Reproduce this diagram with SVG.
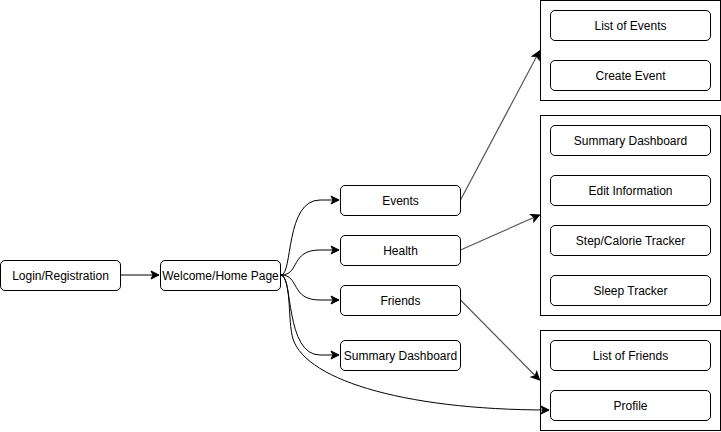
<svg xmlns="http://www.w3.org/2000/svg" width="721" height="432" viewBox="0 0 721 432">
<style>
.n{fill:#fff;stroke:#000;stroke-width:1}
.c{fill:#fff;stroke:#000;stroke-width:1}
.t{font-family:"Liberation Sans",Arial,sans-serif;font-size:12px;fill:#000;text-anchor:middle;dominant-baseline:central}
.e{fill:none;stroke:#000;stroke-width:1;marker-end:url(#a)}
.g{fill:none;stroke:#555;stroke-width:1.2;marker-end:url(#a)}
</style>
<defs>
<marker id="a" markerUnits="userSpaceOnUse" markerWidth="10" markerHeight="10" refX="8" refY="4" orient="auto" overflow="visible">
<path d="M0,0 L8,4 L0,8 L2,4 Z" fill="#000" stroke="#000" stroke-width="1"/>
</marker>
</defs>
<rect width="721" height="432" fill="#fff"/>
<g id="container-events"><rect class="c" x="540.5" y="0.5" width="180" height="100"/></g>
<g id="container-health"><rect class="c" x="540.5" y="115.5" width="180" height="200"/></g>
<g id="container-friends"><rect class="c" x="540.5" y="330.5" width="180" height="100"/></g>
<g id="connectors">
<path class="e" d="M120.5,275 L159,275"/>
<path class="e" d="M281,275 C293,275 285,200 320,200 L339,200"/>
<path class="e" d="M281,275 C300,275 290,250 320,250 L339,250"/>
<path class="e" d="M281,275 C300,275 290,300 320,300 L339,300"/>
<path class="e" d="M281,275 C293,275 285,355 320,355 L339,355"/>
<path class="e" d="M281,275 C291,279 288,315 292,335 C300,378 400,410 549,410"/>
<path class="g" d="M460.5,200 L539.5,51"/>
<path class="g" d="M460.5,250 L539.5,215"/>
<path class="g" d="M460.5,300 L539.5,380"/>
</g>
<g id="login"><rect class="n" x="0.5" y="260.5" width="120" height="30" rx="4.5"/><text class="t" x="60.5" y="275.5">Login/Registration</text></g>
<g id="welcome"><rect class="n" x="160.5" y="260.5" width="120" height="30" rx="4.5"/><text class="t" x="220.5" y="275.5">Welcome/Home Page</text></g>
<g id="events"><rect class="n" x="340.5" y="185.5" width="120" height="30" rx="4.5"/><text class="t" x="400.5" y="200.5">Events</text></g>
<g id="health"><rect class="n" x="340.5" y="235.5" width="120" height="30" rx="4.5"/><text class="t" x="400.5" y="250.5">Health</text></g>
<g id="friends"><rect class="n" x="340.5" y="285.5" width="120" height="30" rx="4.5"/><text class="t" x="400.5" y="300.5">Friends</text></g>
<g id="summary-dashboard"><rect class="n" x="340.5" y="340.5" width="120" height="30" rx="4.5"/><text class="t" x="400.5" y="355.5">Summary Dashboard</text></g>
<g id="list-of-events"><rect class="n" x="550.5" y="10.5" width="160" height="30" rx="4.5"/><text class="t" x="630.5" y="25.5">List of Events</text></g>
<g id="create-event"><rect class="n" x="550.5" y="60.5" width="160" height="30" rx="4.5"/><text class="t" x="630.5" y="75.5">Create Event</text></g>
<g id="health-summary"><rect class="n" x="550.5" y="125.5" width="160" height="30" rx="4.5"/><text class="t" x="630.5" y="140.5">Summary Dashboard</text></g>
<g id="edit-information"><rect class="n" x="550.5" y="175.5" width="160" height="30" rx="4.5"/><text class="t" x="630.5" y="190.5">Edit Information</text></g>
<g id="step-tracker"><rect class="n" x="550.5" y="225.5" width="160" height="30" rx="4.5"/><text class="t" x="630.5" y="240.5">Step/Calorie Tracker</text></g>
<g id="sleep-tracker"><rect class="n" x="550.5" y="275.5" width="160" height="30" rx="4.5"/><text class="t" x="630.5" y="290.5">Sleep Tracker</text></g>
<g id="list-of-friends"><rect class="n" x="550.5" y="340.5" width="160" height="30" rx="4.5"/><text class="t" x="630.5" y="355.5">List of Friends</text></g>
<g id="profile"><rect class="n" x="550.5" y="390.5" width="160" height="30" rx="4.5"/><text class="t" x="630.5" y="405.5">Profile</text></g>
</svg>
